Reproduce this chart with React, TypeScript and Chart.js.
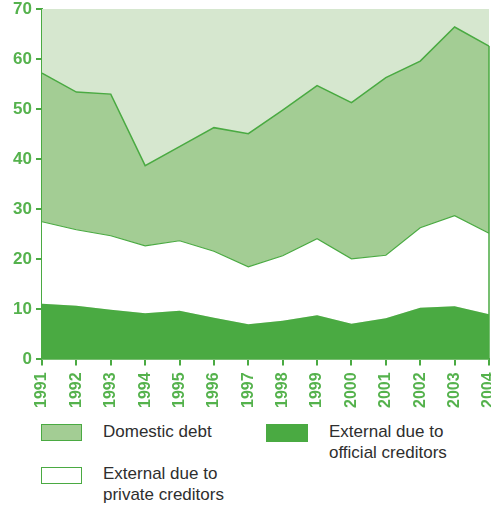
import React, { useEffect, useRef } from "react";
import { Chart, registerables } from "chart.js";

Chart.register(...registerables);

const years = ["1991", "1992", "1993", "1994", "1995", "1996", "1997", "1998", "1999", "2000", "2001", "2002", "2003", "2004"];
const officialCreditors = [11.1, 10.7, 9.9, 9.2, 9.7, 8.3, 7.0, 7.7, 8.8, 7.1, 8.2, 10.3, 10.6, 9.0];
const privateCreditors = [16.4, 15.2, 14.8, 13.5, 14.0, 13.3, 11.5, 13.0, 15.3, 13.0, 12.6, 16.0, 18.1, 16.2];
const domesticDebt = [29.7, 27.5, 28.3, 16.0, 18.8, 24.7, 26.6, 29.1, 30.6, 31.2, 35.5, 33.3, 37.7, 37.4];
const yMax = 70;
const yStep = 10;

const GREEN = "#4aaa42";
const TEXT_GREEN = "#55b24d";
const MID_GREEN = "#a3cd94";
const LIGHT_GREEN = "#d6e7cf";

const bgPlugin = {
  id: "areaBg",
  beforeDatasetsDraw(chart: any) {
    const { ctx, chartArea } = chart;
    ctx.save();
    ctx.fillStyle = LIGHT_GREEN;
    ctx.fillRect(chartArea.left, chartArea.top, chartArea.right - chartArea.left, chartArea.bottom - chartArea.top);
    ctx.restore();
  },
  afterDatasetsDraw(chart: any) {
    const meta = chart.getDatasetMeta(2);
    const pts = meta.data;
    if (!pts || !pts.length) return;
    const last = pts[pts.length - 1];
    const { ctx, chartArea } = chart;
    ctx.save();
    ctx.strokeStyle = GREEN;
    ctx.lineWidth = 1.5;
    ctx.beginPath();
    ctx.moveTo(last.x, last.y);
    ctx.lineTo(last.x, chartArea.bottom);
    ctx.stroke();
    ctx.restore();
  },
};

const tickFont = { family: "'Liberation Sans', Arial, sans-serif", weight: "bold", size: 16 };

function ChartCanvas() {
  const ref = useRef<HTMLCanvasElement | null>(null);
  useEffect(() => {
    if (!ref.current) return;
    const chart = new Chart(ref.current, {
      type: "line",
      data: {
        labels: years,
        datasets: [
          {
            label: "External due to official creditors",
            data: officialCreditors,
            backgroundColor: GREEN,
            borderColor: GREEN,
            borderWidth: 0,
            fill: "origin",
            pointRadius: 0,
            tension: 0,
          },
          {
            label: "External due to private creditors",
            data: privateCreditors,
            backgroundColor: "#ffffff",
            borderColor: GREEN,
            borderWidth: 1.2,
            fill: "-1",
            pointRadius: 0,
            tension: 0,
          },
          {
            label: "Domestic debt",
            data: domesticDebt,
            backgroundColor: MID_GREEN,
            borderColor: GREEN,
            borderWidth: 1.5,
            fill: "-1",
            pointRadius: 0,
            tension: 0,
          },
        ],
      },
      options: {
        animation: false,
        responsive: false,
        maintainAspectRatio: false,
        layout: { padding: { top: 0, right: 2, left: 0, bottom: 0 } },
        plugins: { legend: { display: false }, tooltip: { enabled: false } },
        scales: {
          x: {
            offset: false,
            grid: { drawOnChartArea: false, drawTicks: true, tickLength: 6, color: GREEN, lineWidth: 2 },
            border: { color: GREEN, width: 2 },
            ticks: {
              autoSkip: false,
              maxRotation: 90,
              minRotation: 90,
              padding: 7,
              color: TEXT_GREEN,
              font: tickFont,
            },
            afterFit(scale: any) {
              scale.paddingLeft = 0;
              scale.paddingRight = 0;
            },
          },
          y: {
            stacked: true,
            min: 0,
            max: yMax,
            grid: { drawOnChartArea: false, drawTicks: true, tickLength: 6, color: GREEN, lineWidth: 2 },
            border: { color: GREEN, width: 2 },
            ticks: {
              stepSize: yStep,
              padding: 4,
              color: TEXT_GREEN,
              font: { ...tickFont, size: 17 },
            },
            afterFit(scale: any) {
              scale.width = 42;
              scale.paddingTop = 9;
            },
          },
        },
      },
      plugins: [bgPlugin],
    } as any);
    return () => chart.destroy();
  }, []);
  return <canvas ref={ref} width={491} height={415} style={{ display: "block", width: 491, height: 415 }} />;
}

const swatch = (bg: string, border: string | null): React.CSSProperties => ({
  position: "absolute",
  width: border ? 39 : 42,
  height: border ? 15 : 18,
  background: bg,
  border: border ? `1.5px solid ${border}` : "none",
});

const textStyle: React.CSSProperties = {
  position: "absolute",
  fontFamily: "'Liberation Sans', Arial, sans-serif",
  fontSize: 17,
  lineHeight: "21px",
  color: "#2e2e2e",
  whiteSpace: "nowrap",
};

export default function App() {
  return (
    <div style={{ position: "absolute", left: 0, top: 0, width: 491, height: 506, background: "#fff", overflow: "hidden" }}>
      <ChartCanvas />
      <div style={{ ...swatch(MID_GREEN, GREEN), left: 41, top: 424 }} />
      <div style={{ ...textStyle, left: 103, top: 421 }}>Domestic debt</div>
      <div style={{ ...swatch(GREEN, null), left: 266, top: 424 }} />
      <div style={{ ...textStyle, left: 329, top: 421 }}>
        External due to
        <br />
        official creditors
      </div>
      <div style={{ ...swatch("#ffffff", GREEN), left: 41, top: 467 }} />
      <div style={{ ...textStyle, left: 103, top: 463 }}>
        External due to
        <br />
        private creditors
      </div>
    </div>
  );
}
